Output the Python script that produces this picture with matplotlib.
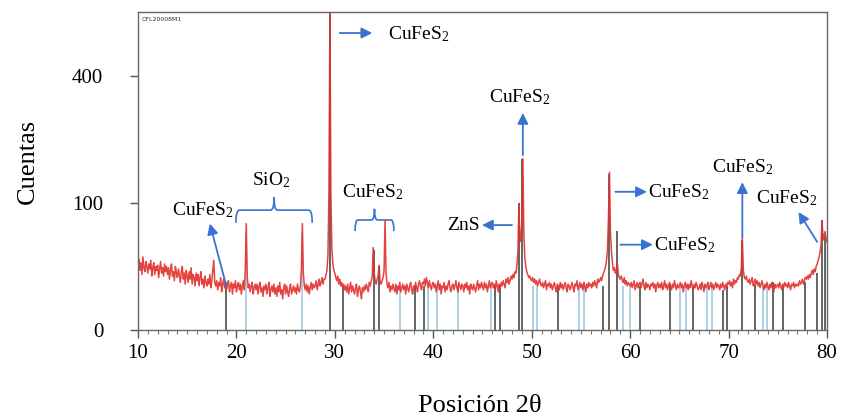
import numpy as np
import matplotlib
matplotlib.use("Agg")
import matplotlib.pyplot as plt
from matplotlib.path import Path
from matplotlib.patches import PathPatch
import matplotlib.transforms as mtransforms

plt.rcParams["font.family"] = ["Liberation Serif", "DejaVu Serif"]
plt.rcParams["mathtext.fontset"] = "custom"
plt.rcParams["mathtext.rm"] = "Liberation Serif"
plt.rcParams["mathtext.it"] = "Liberation Serif:italic"

# measured pattern, 10.0 .. 80.0 deg in 0.1 deg steps (counts)
counts = [
    26, 31, 22, 28, 19, 33, 24, 21, 29, 25,   # 10
    20, 27, 23, 30, 18, 24, 28, 19, 25, 22,   # 11
    26, 17, 23, 29, 20, 24, 18, 27, 21, 25,   # 12
    19, 24, 16, 22, 27, 18, 21, 15, 25, 20,   # 13
    17, 23, 19, 14, 21, 25, 16, 20, 13, 22,   # 14
    18, 14, 21, 16, 24, 13, 19, 17, 12, 20,   # 15
    15, 19, 12, 17, 21, 13, 16, 11, 18, 14,   # 16
    12, 16, 13, 19, 11, 15, 22, 30, 14, 12,   # 17
    15, 10, 14, 12, 17, 9, 13, 16, 11, 14,    # 18
    10, 13, 15, 9, 12, 14, 8, 13, 11, 15,     # 19
    9, 12, 14, 10, 13, 8, 12, 15, 10, 22,     # 20
    70, 18, 11, 13, 9, 12, 14, 8, 11, 13,     # 21
    10, 13, 8, 12, 14, 9, 11, 7, 12, 10,      # 22
    13, 8, 11, 14, 7, 10, 12, 9, 13, 8,       # 23
    11, 7, 12, 9, 14, 8, 10, 6, 11, 13,       # 24
    8, 12, 9, 7, 11, 13, 8, 10, 12, 9,        # 25
    11, 8, 13, 10, 9, 12, 22, 70, 20, 12,     # 26
    10, 13, 9, 12, 8, 11, 14, 10, 13, 11,     # 27
    12, 15, 10, 13, 16, 12, 14, 17, 13, 16,   # 28
    16, 19, 22, 35, 120, 620, 110, 40, 27, 22,  # 29
    20, 17, 15, 18, 13, 16, 12, 14, 11, 13,   # 30
    10, 12, 9, 13, 8, 11, 14, 9, 12, 10,      # 31
    8, 11, 13, 7, 10, 12, 9, 6, 11, 9,        # 32
    12, 10, 13, 11, 9, 14, 12, 15, 18, 42,    # 33
    20, 15, 13, 16, 18, 26, 14, 13, 15, 17,   # 34
    22, 74, 20, 13, 11, 14, 9, 12, 10, 13,    # 35
    11, 9, 13, 8, 12, 10, 14, 9, 11, 13,      # 36
    10, 12, 8, 13, 11, 9, 12, 14, 10, 8,      # 37
    12, 10, 14, 11, 9, 13, 15, 12, 10, 14,    # 38
    13, 16, 12, 17, 14, 11, 15, 12, 10, 13,   # 39
    14, 11, 13, 9, 12, 15, 10, 13, 8, 12,     # 40
    11, 14, 9, 12, 10, 13, 15, 11, 9, 12,     # 41
    13, 10, 12, 15, 11, 9, 14, 12, 10, 13,    # 42
    12, 9, 13, 11, 14, 10, 12, 8, 13, 11,     # 43
    10, 13, 11, 9, 12, 15, 10, 13, 11, 14,    # 44
    12, 10, 14, 11, 13, 9, 12, 15, 11, 13,    # 45
    14, 11, 13, 10, 15, 12, 9, 13, 11, 14,    # 46
    12, 15, 13, 11, 16, 14, 17, 13, 15, 18,   # 47
    16, 19, 17, 21, 20, 26, 38, 99, 48, 55,   # 48
    70, 182, 60, 32, 25, 21, 19, 17, 18, 16,  # 49
    15, 17, 14, 16, 13, 15, 12, 14, 16, 13,   # 50
    12, 14, 11, 13, 15, 10, 13, 12, 14, 11,   # 51
    13, 10, 12, 14, 11, 9, 13, 12, 10, 14,    # 52
    11, 13, 10, 12, 14, 11, 9, 13, 12, 10,    # 53
    12, 14, 11, 9, 13, 12, 15, 10, 12, 14,    # 54
    11, 13, 10, 14, 12, 9, 13, 11, 14, 12,    # 55
    13, 11, 14, 12, 15, 13, 11, 16, 14, 15,   # 56
    17, 15, 18, 20, 22, 25, 30, 40, 80, 154,  # 57
    60, 38, 28, 22, 24, 20, 22, 28, 19, 17,   # 58
    16, 18, 15, 14, 17, 13, 15, 12, 14, 13,   # 59
    12, 14, 11, 13, 15, 10, 12, 14, 11, 13,   # 60
    14, 11, 13, 16, 12, 10, 14, 11, 13, 12,   # 61
    10, 13, 12, 14, 11, 13, 9, 12, 14, 11,    # 62
    13, 11, 14, 10, 12, 15, 11, 13, 10, 12,   # 63
    14, 12, 10, 13, 11, 15, 12, 10, 13, 11,   # 64
    12, 14, 11, 13, 9, 12, 14, 11, 13, 10,    # 65
    13, 11, 15, 12, 10, 13, 11, 14, 12, 10,   # 66
    11, 13, 10, 14, 12, 9, 13, 11, 12, 14,    # 67
    10, 12, 14, 11, 13, 10, 12, 14, 11, 13,   # 68
    12, 10, 13, 11, 14, 12, 10, 13, 11, 14,   # 69
    13, 15, 12, 14, 11, 16, 13, 15, 14, 17,   # 70
    16, 19, 18, 24, 52, 22, 17, 16, 18, 15,   # 71
    14, 16, 13, 15, 17, 12, 14, 16, 13, 15,   # 72
    12, 14, 11, 13, 15, 12, 10, 13, 11, 14,   # 73
    12, 10, 13, 11, 14, 12, 9, 13, 11, 12,    # 74
    13, 11, 14, 12, 10, 13, 11, 14, 12, 13,   # 75
    11, 14, 12, 10, 13, 12, 14, 11, 13, 12,   # 76
    13, 12, 15, 13, 14, 16, 13, 15, 17, 16,   # 77
    18, 16, 19, 17, 20, 22, 19, 23, 21, 25,   # 78
    27, 30, 33, 38, 45, 74, 50, 55, 60, 52,   # 79
    48,                                        # 80
]
two_theta = np.linspace(10, 80, len(counts))

# reference sticks: chalcopyrite (dark) and quartz (light blue)
cpy_pos = [18.9, 29.5, 30.8, 34.0, 34.5, 38.15, 39.1, 46.3, 46.8, 48.7, 49.0,
           52.7, 57.25, 57.9, 58.7, 61.0, 64.05, 66.4, 69.4, 69.8, 71.4, 72.7,
           74.5, 75.5, 77.8, 79.0, 79.5, 79.8]
cpy_int = [14, 620, 12, 40, 25, 12, 12, 12, 12, 99, 180,
           12, 12, 150, 60, 12, 13, 12, 10, 12, 50, 13,
           14, 12, 14, 20, 75, 55]
qtz_pos = [21.0, 26.7, 36.6, 39.5, 40.4, 42.5, 45.9, 50.1, 50.55, 54.8, 55.3,
           59.3, 60.0, 65.05, 65.7, 67.8, 68.3, 73.5, 73.9]
qtz_int = [60, 60, 12, 12, 12, 12, 12, 12, 12, 12, 12,
           12, 12, 12, 12, 12, 12, 12, 12]

ytick_vals = [0, 100, 400]
xtick_vals = [10, 20, 30, 40, 50, 60, 70, 80]

ARROW = "#3a72d2"
CU = r"CuFeS$_2$"


def brace(ax, x0, x1, y, h, r):
    # curly brace, x in data, y in axes fraction
    xm = (x0 + x1) / 2
    verts = [(x0, y - h), (x0, y), (x0 + r, y), (xm - r, y), (xm, y), (xm, y + h),
             (xm, y), (xm + r, y), (x1 - r, y), (x1, y), (x1, y - h)]
    codes = [Path.MOVETO, Path.CURVE3, Path.CURVE3, Path.LINETO, Path.CURVE3, Path.CURVE3,
             Path.CURVE3, Path.CURVE3, Path.LINETO, Path.CURVE3, Path.CURVE3]
    trans = mtransforms.blended_transform_factory(ax.transData, ax.transAxes)
    ax.add_patch(PathPatch(Path(verts, codes), fill=False, edgecolor=ARROW, lw=1.2,
                           transform=trans, clip_on=False))


def arrow(ax, tail, head):
    ax.annotate("", xy=head, xytext=tail,
                arrowprops=dict(arrowstyle="-|>", color=ARROW, lw=1.3,
                                mutation_scale=16, shrinkA=0, shrinkB=0))


fig = plt.figure(figsize=(8.45, 4.19), dpi=100)
ax = fig.add_axes([0.1633, 0.2124, 0.8154, 0.759])

ax.vlines(qtz_pos, 0, qtz_int, colors="#9cc3dc", lw=1.1, zorder=1)
ax.vlines(cpy_pos, 0, cpy_int, colors="#3a3a3a", lw=1.1, zorder=1)
ax.plot(two_theta, counts, color="#e2302c", lw=1.1, alpha=0.9, zorder=2)

ax.set_yscale("function", functions=(lambda v: np.sqrt(np.clip(v, 0, None)),
                                     lambda v: np.square(v)))
ax.set_xlim(10, 80)
ax.set_ylim(0, 625)
ax.set_yticks(ytick_vals)
ax.set_yticklabels([str(v) for v in ytick_vals])
ax.set_xticks(xtick_vals)
ax.set_xticks(np.arange(10, 81, 1), minor=True)
ax.yaxis.set_minor_locator(matplotlib.ticker.NullLocator())
ax.tick_params(axis="y", direction="out", length=6, width=1, pad=19,
               labelsize=15, color="#555555")
ax.tick_params(axis="x", which="major", direction="out", length=6, width=1,
               pad=4, labelsize=15, color="#555555")
ax.tick_params(axis="x", which="minor", direction="out", length=3, width=0.8,
               color="#777777")
for s in ax.spines.values():
    s.set_color("#666666")
    s.set_linewidth(1.0)

fig.text(0.033, 0.615, "Cuentas", rotation=90, ha="center", va="center", fontsize=19)
fig.text(0.568, 0.032, "Posición 2θ", ha="center", va="center", fontsize=19)
ax.text(0.006, 0.985, "CFL20008M1", transform=ax.transAxes, fontsize=4.5,
        family="DejaVu Sans", ha="left", va="top", color="#333333")

# labels
fs = 14
arrow(ax, (30.5, 545), (33.8, 545))
ax.text(35.4, 540, CU, fontsize=fs, ha="left", va="center")

ax.text(16.6, 89, CU, fontsize=fs, ha="center", va="center")
arrow(ax, (19.0, 11.5), (17.3, 70))

ax.text(23.5, 139, r"SiO$_2$", fontsize=fs, ha="center", va="center")
brace(ax, 19.95, 27.7, 0.377, 0.04, 0.35)

ax.text(33.8, 118, CU, fontsize=fs, ha="center", va="center")
brace(ax, 32.05, 36.0, 0.346, 0.035, 0.3)

arrow(ax, (48.0, 68), (44.95, 68))
ax.text(44.7, 68, "ZnS", fontsize=fs, ha="right", va="center")

ax.text(48.8, 335, CU, fontsize=fs, ha="center", va="center")
arrow(ax, (49.1, 189), (49.1, 291))

arrow(ax, (58.5, 118), (61.7, 118))
ax.text(61.85, 118, CU, fontsize=fs, ha="left", va="center")

arrow(ax, (59.0, 45), (62.3, 45))
ax.text(62.45, 45, CU, fontsize=fs, ha="left", va="center")

ax.text(71.4, 164, CU, fontsize=fs, ha="center", va="center")
arrow(ax, (71.4, 53), (71.4, 135))

ax.text(75.9, 108, CU, fontsize=fs, ha="center", va="center")
arrow(ax, (79.0, 48), (77.1, 86))

fig.savefig("out.png", dpi=100)
